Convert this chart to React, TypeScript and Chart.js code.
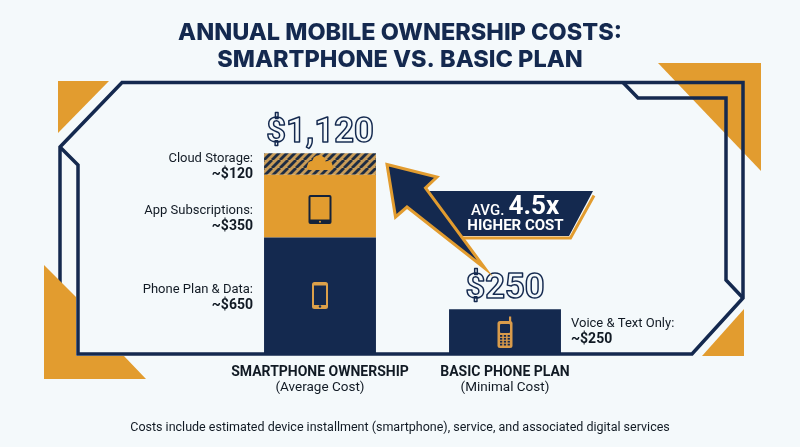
import React, { useEffect, useRef } from "react";
import { Chart, registerables } from "chart.js";

Chart.register(...registerables);

const categories = ["SMARTPHONE OWNERSHIP", "BASIC PHONE PLAN"];
const subCategories = ["(Average Cost)", "(Minimal Cost)"];
const phonePlanValues = [650, null];
const appSubscriptionValues = [350, null];
const cloudStorageValues = [120, null];
const voiceTextValues = [null, 250];
const totalLabels = ["$1,120", "$250"];
const titleLines = ["ANNUAL MOBILE OWNERSHIP COSTS:", "SMARTPHONE VS. BASIC PLAN"];
const footnote = "Costs include estimated device installment (smartphone), service, and associated digital services";

const NAVY = "#14294f";
const ORANGE = "#e29c2f";
const BG = "#f4f9fb";
const INK = "#111a24";
const FONT = "Roboto, sans-serif";

function hatchPattern(): CanvasPattern | string {
  const c = document.createElement("canvas");
  c.width = 8;
  c.height = 8;
  const g = c.getContext("2d");
  if (!g) return ORANGE;
  g.fillStyle = "#c99c58";
  g.fillRect(0, 0, 8, 8);
  g.strokeStyle = "#1e2c42";
  g.lineWidth = 2.8;
  for (const o of [-8, 0, 8]) {
    g.beginPath();
    g.moveTo(o, 8);
    g.lineTo(o + 8, 0);
    g.stroke();
  }
  return g.createPattern(c, "repeat") ?? ORANGE;
}

function poly(ctx: CanvasRenderingContext2D, pts: number[][], close = true) {
  ctx.beginPath();
  pts.forEach((p, i) => (i ? ctx.lineTo(p[0], p[1]) : ctx.moveTo(p[0], p[1])));
  if (close) ctx.closePath();
}

function rrect(ctx: CanvasRenderingContext2D, x: number, y: number, w: number, h: number, r: number) {
  ctx.beginPath();
  ctx.roundRect(x, y, w, h, r);
}

const framePlugin = {
  id: "frame",
  beforeDatasetsDraw(chart: Chart) {
    const ctx = chart.ctx;
    ctx.save();
    ctx.fillStyle = ORANGE;
    const tris = [
      [[58, 81], [109, 81], [58, 133]],
      [[658, 63], [761, 63], [761, 171]],
      [[702, 356], [744, 356], [744, 309]],
    ];
    tris.forEach((t) => {
      poly(ctx, t);
      ctx.fill();
    });
    ctx.strokeStyle = NAVY;
    ctx.lineWidth = 3.5;
    ctx.lineJoin = "miter";
    poly(ctx, [[60, 290], [60, 147], [122, 82.5], [743, 82.5], [743, 298], [692, 354], [78, 354], [78, 165], [60, 147]], false);
    ctx.stroke();
    poly(ctx, [[623, 82.5], [638, 98], [726, 98], [726, 280], [743, 298]], false);
    ctx.stroke();
    ctx.fillStyle = ORANGE;
    poly(ctx, [[44, 265], [44, 379], [146, 379], [124, 356], [76, 356], [76, 297]]);
    ctx.fill();
    ctx.restore();
  },
};

function drawCloud(ctx: CanvasRenderingContext2D, cx: number, cy: number) {
  ctx.fillStyle = ORANGE;
  ctx.beginPath();
  ctx.arc(cx - 1, cy - 2, 6.8, 0, Math.PI * 2);
  ctx.fill();
  ctx.beginPath();
  ctx.arc(cx - 8, cy + 1.5, 4.5, 0, Math.PI * 2);
  ctx.fill();
  ctx.beginPath();
  ctx.arc(cx + 8, cy + 1.5, 4.5, 0, Math.PI * 2);
  ctx.fill();
  rrect(ctx, cx - 13, cy + 0.5, 26, 5.5, 2.7);
  ctx.fill();
}

function drawTablet(ctx: CanvasRenderingContext2D, cx: number, cy: number) {
  ctx.fillStyle = "#14223a";
  rrect(ctx, cx - 11.5, cy - 14, 23, 29, 2);
  ctx.fill();
  ctx.fillStyle = ORANGE;
  ctx.fillRect(cx - 9.5, cy - 12, 19, 22.5);
  ctx.beginPath();
  ctx.arc(cx, cy + 12.7, 1, 0, Math.PI * 2);
  ctx.fill();
}

function drawPhone(ctx: CanvasRenderingContext2D, cx: number, cy: number) {
  ctx.fillStyle = "#dca04a";
  rrect(ctx, cx - 8, cy - 13.5, 16, 27, 2.5);
  ctx.fill();
  ctx.fillStyle = NAVY;
  ctx.fillRect(cx - 6, cy - 10, 12, 19.5);
  ctx.beginPath();
  ctx.arc(cx, cy + 11, 1.2, 0, Math.PI * 2);
  ctx.fill();
}

function drawBasicPhone(ctx: CanvasRenderingContext2D, cx: number, cy: number) {
  const tan = "#d99b4b";
  ctx.fillStyle = tan;
  ctx.fillRect(cx + 4, cy - 15.5, 2.2, 6);
  rrect(ctx, cx - 7.5, cy - 11, 15, 27, 2.5);
  ctx.fill();
  ctx.fillStyle = NAVY;
  rrect(ctx, cx - 5, cy - 8, 10, 9, 1);
  ctx.fill();
  for (let r = 0; r < 4; r++) {
    for (let c = 0; c < 3; c++) {
      ctx.fillRect(cx - 5 + c * 3.8, cy + 3 + r * 2.9, 2.3, 1.8);
    }
  }
}

const overlayPlugin = {
  id: "overlay",
  afterDatasetsDraw(chart: Chart) {
    const ctx = chart.ctx;
    ctx.save();
    const bar1x = chart.getDatasetMeta(0).data[0].x;
    const bar2x = chart.getDatasetMeta(3).data[1].x;
    drawPhone(ctx, bar1x, 295.5);
    drawTablet(ctx, bar1x, 209);
    drawCloud(ctx, bar1x, 164);
    drawBasicPhone(ctx, bar2x, 332);

    // totals, outlined
    ctx.textBaseline = "middle";
    ctx.textAlign = "center";
    ctx.font = `700 34.5px ${FONT}`;
    ctx.lineWidth = 1.5;
    ctx.lineJoin = "round";
    const tops = [chart.getDatasetMeta(2).data[0].y, chart.getDatasetMeta(3).data[1].y];
    totalLabels.forEach((t, i) => {
      const x = i ? bar2x : bar1x;
      const y = tops[i] - 20;
      ctx.fillStyle = BG;
      ctx.fillText(t, x, y);
      ctx.strokeStyle = NAVY;
      ctx.strokeText(t, x, y);
    });

    // segment notes
    const note = (a: string, b: string, x: number, y: number, align: CanvasTextAlign) => {
      ctx.textAlign = align;
      ctx.fillStyle = INK;
      ctx.font = `400 13px ${FONT}`;
      ctx.fillText(a, x, y);
      ctx.font = `700 14px ${FONT}`;
      ctx.fillText(b, x, y + 16);
    };
    note("Cloud Storage:", `~$${cloudStorageValues[0]}`, 253, 158.5, "right");
    note("App Subscriptions:", `~$${appSubscriptionValues[0]}`, 253, 210.5, "right");
    note("Phone Plan & Data:", `~$${phonePlanValues[0]}`, 253, 289.5, "right");
    note("Voice & Text Only:", `~$${voiceTextValues[1]}`, 571, 323.5, "left");

    // sub-category lines
    ctx.textAlign = "center";
    ctx.font = `400 13.5px ${FONT}`;
    ctx.fillStyle = INK;
    subCategories.forEach((t, i) => ctx.fillText(t, i ? bar2x : bar1x, 387.5));

    // footnote
    ctx.font = `400 12.5px ${FONT}`;
    ctx.fillText(footnote, 400, 427.5);

    // banner
    ctx.fillStyle = NAVY;
    poly(ctx, [[429, 191], [593, 191], [569, 236], [455, 236]]);
    ctx.fill();
    ctx.strokeStyle = ORANGE;
    ctx.lineWidth = 3;
    ctx.lineJoin = "miter";
    poly(ctx, [[462, 238], [570.5, 238], [594, 195.5]], false);
    ctx.stroke();

    // arrow
    ctx.fillStyle = NAVY;
    poly(ctx, [[387, 164.5], [437, 177], [425.5, 188], [485, 268.5], [407, 207], [395.5, 217]]);
    ctx.fill();
    ctx.stroke();

    // banner text
    ctx.fillStyle = "#ffffff";
    ctx.textAlign = "left";
    ctx.font = `500 15px ${FONT}`;
    ctx.fillText("AVG.", 471, 211);
    ctx.font = `700 26px ${FONT}`;
    ctx.fillText("4.5x", 508.5, 207);
    ctx.textAlign = "center";
    ctx.font = `700 15px ${FONT}`;
    ctx.fillText("HIGHER COST", 515.5, 226);
    ctx.restore();
  },
};

const hiddenAxis = (position: string, width: number) => ({
  position,
  display: true,
  stacked: true,
  min: 0,
  max: 1400,
  grid: { display: false },
  border: { display: false },
  ticks: { display: false },
  afterFit: (s: any) => {
    s.width = width;
  },
});

export default function App() {
  const ref = useRef<HTMLCanvasElement>(null);
  useEffect(() => {
    if (!ref.current) return;
    const chart = new Chart(ref.current, {
      type: "bar",
      data: {
        labels: categories,
        datasets: [
          { label: "Phone Plan & Data", data: phonePlanValues, backgroundColor: NAVY },
          { label: "App Subscriptions", data: appSubscriptionValues, backgroundColor: ORANGE },
          { label: "Cloud Storage", data: cloudStorageValues, backgroundColor: hatchPattern() },
          { label: "Voice & Text Only", data: voiceTextValues, backgroundColor: NAVY },
        ],
      },
      options: {
        responsive: false,
        animation: false,
        layout: { padding: 0 },
        datasets: { bar: { barPercentage: 0.605, categoryPercentage: 1, borderWidth: 0 } },
        plugins: {
          legend: { display: false },
          tooltip: { enabled: false },
          title: {
            display: true,
            text: titleLines,
            color: NAVY,
            font: { family: "Inter, sans-serif", size: 23.5, weight: 800, lineHeight: 1.15 },
            padding: { top: 19, bottom: 30 },
          },
        },
        scales: {
          x: {
            stacked: true,
            grid: { display: false },
            border: { display: false },
            afterFit: (s: any) => {
              s.height = 93;
            },
            ticks: {
              color: INK,
              font: { family: FONT, size: 14, weight: 700 },
              padding: 2,
              maxRotation: 0,
              autoSkip: false,
            },
          },
          y: hiddenAxis("left", 227.5),
          yRight: hiddenAxis("right", 202.5),
        },
      },
      plugins: [framePlugin, overlayPlugin],
    } as any);
    return () => chart.destroy();
  }, []);
  return (
    <div style={{ position: "fixed", left: 0, top: 0, width: 800, height: 447, background: BG }}>
      <canvas ref={ref} width={800} height={447} style={{ display: "block" }} />
    </div>
  );
}
